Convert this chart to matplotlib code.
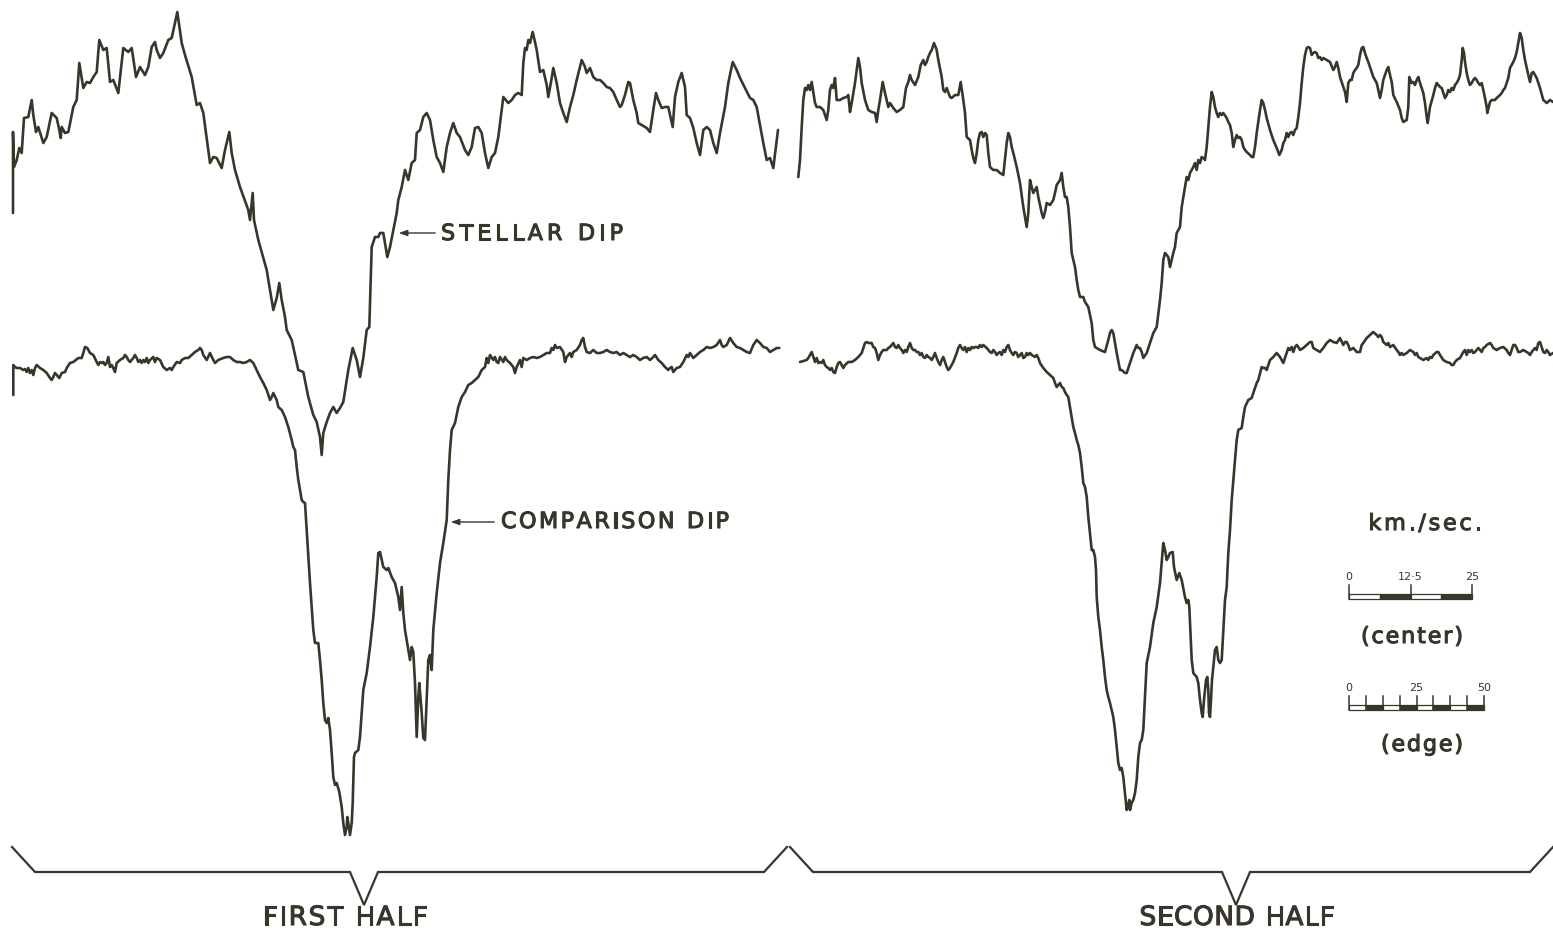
import matplotlib
matplotlib.use("Agg")
import matplotlib.pyplot as plt
import matplotlib.patheffects as pe

# chart recorder traces, (position, pen deflection) pairs along the plate
stellar_first = [
    (13, 213), (13, 132), (14, 167), (16.7, 160), (19.3, 148), (21.7, 153), (24, 118), (28.3, 117),
    (31.7, 100), (33.3, 115), (36, 132), (38.3, 127), (43.3, 143), (46.7, 137), (51.7, 113), (56.7, 118),
    (59.3, 130), (60.7, 138), (61.7, 127), (65, 133), (68.3, 132), (73.3, 107), (76.7, 100), (79.3, 63),
    (83.3, 88), (86.7, 82), (90, 83), (93.3, 77), (96.7, 72), (99.3, 40), (103.3, 50), (106.7, 48),
    (110, 82), (113.3, 80), (118.3, 93), (123.3, 48), (128.3, 52), (131.7, 48), (136, 77), (140, 67),
    (145, 75), (148.3, 67), (151.7, 47), (155, 42), (156.7, 50), (160, 58), (163.3, 53), (168.3, 40),
    (171.7, 38), (177.3, 12), (181.7, 43), (185, 55), (191.7, 77), (196.7, 105), (200, 103), (203.3, 113),
    (210, 163), (213.3, 157), (216.7, 158), (221.7, 168), (225, 150), (229.3, 132), (231.7, 153), (235, 170),
    (240, 187), (248.3, 210), (250, 220), (252.7, 193), (254, 220), (258.3, 240), (266.7, 270), (271.7, 300),
    (273.3, 310), (276.7, 298), (279.3, 283), (281.7, 300), (285, 317), (286.7, 330), (291.7, 340), (298.3, 370),
    (303.3, 372), (308.3, 397), (313.3, 415), (316.7, 422), (320, 437), (321.7, 455), (323.3, 433), (326.7, 422),
    (330, 413), (333.3, 407), (336.7, 413), (340, 408), (343.3, 402), (348.3, 370), (352.7, 348), (356.7, 360),
    (360, 377), (363.3, 358), (366.7, 330), (369.3, 327), (371.7, 247), (375, 237), (378.3, 237), (380, 233),
    (383.3, 233), (387.3, 257), (390, 247), (393.3, 230), (396.7, 213), (398.3, 200), (401.7, 187), (405, 170),
    (408.3, 180), (411.7, 163), (415, 160), (416.7, 133), (420, 130), (423.3, 117), (426.7, 113), (430, 120),
    (433.3, 140), (436.7, 157), (440, 163), (443.3, 172), (446.7, 147), (450, 133), (453.3, 123), (456.7, 133),
    (460, 137), (465, 150), (468.3, 155), (471.7, 147), (475, 128), (478.3, 127), (481.7, 133), (485, 153),
    (488.3, 168), (491.7, 157), (495, 153), (498.3, 137), (501.7, 110), (503.3, 97), (508.3, 103), (511.7, 100),
    (515, 95), (518.3, 93), (521.7, 95), (523.3, 63), (525, 48), (526.7, 50), (528.3, 40), (530, 43),
    (532.7, 32), (535, 42), (536.7, 50), (540, 72), (543.3, 70), (546.7, 85), (548.3, 97), (551.7, 78),
    (553.3, 68), (556.7, 83), (560, 103), (563.3, 113), (566.7, 122), (570, 107), (573.3, 95), (576.7, 80),
    (580, 67), (581.7, 60), (585, 67), (586.7, 73), (590, 68), (593.3, 77), (596.7, 80), (600, 80),
    (603.3, 83), (606.7, 87), (610, 88), (613.3, 92), (616.7, 100), (620, 107), (621.7, 105), (625, 95),
    (628.3, 82), (630, 83), (633.3, 100), (636.7, 113), (638.3, 123), (641.7, 125), (646.7, 128), (650, 132),
    (653.3, 110), (656, 93), (658.3, 100), (661.7, 108), (665, 107), (668.3, 107), (670, 115), (672.7, 127),
    (675, 97), (678.3, 82), (681.7, 73), (685, 87), (686.7, 115), (690, 118), (693.3, 128), (696.7, 143),
    (700, 155), (703.3, 130), (706.7, 127), (710, 130), (713.3, 143), (716.7, 153), (720, 133), (725, 107),
    (728.3, 83), (732.7, 62), (736.7, 70), (740, 78), (745, 88), (750, 98), (753.3, 100), (756.7, 107),
    (760, 125), (763.3, 143), (766.7, 160), (770, 158), (773.3, 168), (776.7, 140), (778, 130),
]

stellar_second = [
    (798.3, 177), (800, 160), (801.7, 127), (803.3, 100), (805, 88), (806.7, 90), (808.3, 85), (810, 90),
    (811.7, 82), (813.3, 92), (815, 103), (816.7, 107), (820, 107), (823.3, 110), (826.7, 120), (828.3, 110),
    (830, 90), (831.7, 85), (833.3, 88), (835, 78), (836.7, 100), (840, 100), (843.3, 98), (846.7, 97),
    (848.3, 95), (850, 112), (851.7, 103), (855, 83), (858.3, 58), (860, 67), (861.7, 83), (865, 100),
    (868.3, 110), (871.7, 112), (875, 113), (876.7, 122), (878.3, 110), (880, 100), (882.7, 82), (885, 93),
    (886.7, 100), (888.3, 107), (890, 103), (893.3, 108), (896.7, 112), (900, 110), (903.3, 107), (906, 88),
    (908.3, 82), (910, 75), (911.7, 80), (915, 85), (918.3, 77), (920.7, 65), (923.3, 60), (925, 65),
    (926.7, 62), (928.3, 57), (930, 53), (931.7, 50), (934, 43), (936.7, 50), (938.3, 60), (941.7, 77),
    (943.3, 90), (945, 92), (946.7, 88), (950, 97), (951.7, 98), (955, 95), (958.3, 95), (960.7, 82),
    (963.3, 100), (965, 113), (966.7, 137), (970, 140), (971.7, 150), (973.3, 158), (975, 163), (976.7, 153),
    (978.3, 140), (980, 133), (981.7, 132), (983.3, 137), (985, 133), (986.7, 135), (988.3, 153), (990, 167),
    (993.3, 170), (996.7, 170), (1000, 173), (1003.3, 175), (1006.7, 143), (1008.3, 133), (1010, 137), (1011.7, 147),
    (1013.3, 153), (1016.7, 167), (1020, 183), (1023.3, 207), (1026.7, 227), (1028.3, 213), (1030, 180), (1031.7, 187),
    (1033.3, 193), (1036.7, 187), (1038.3, 197), (1041.7, 213), (1043.3, 218), (1045, 212), (1046.7, 203), (1050, 205),
    (1053.3, 200), (1055, 193), (1056.7, 185), (1060, 180), (1061.7, 173), (1063.3, 187), (1065, 197), (1066.7, 197),
    (1068.3, 207), (1070, 227), (1071.7, 253), (1073.3, 260), (1075, 267), (1076.7, 280), (1078.3, 290), (1080, 297),
    (1083.3, 297), (1085, 302), (1088.3, 307), (1091.7, 323), (1093.3, 340), (1095, 347), (1100, 350), (1105, 352),
    (1108.3, 340), (1110, 333), (1111.7, 330), (1113.3, 333), (1116.7, 353), (1120, 370), (1121.7, 370), (1125, 373),
    (1126.7, 373), (1130, 363), (1133.3, 353), (1136.7, 345), (1138.3, 348), (1140, 348), (1141.7, 352), (1143.3, 358),
    (1146.7, 353), (1150, 343), (1153.3, 333), (1156.7, 327), (1160, 300), (1161.7, 283), (1163.3, 260), (1165, 253),
    (1168.3, 257), (1170, 267), (1171.7, 260), (1173.3, 253), (1175, 247), (1176.7, 233), (1180, 227), (1181.7, 207),
    (1183.3, 197), (1185, 187), (1186.7, 177), (1188.3, 180), (1190, 173), (1193.3, 167), (1195, 163), (1196.7, 170),
    (1198.3, 160), (1200, 163), (1201.7, 157), (1203.3, 158), (1205, 160), (1206.7, 147), (1208.3, 127), (1210, 107),
    (1211.7, 92), (1213.3, 97), (1215, 107), (1216.7, 113), (1218.3, 117), (1220, 113), (1221.7, 115), (1223.3, 113),
    (1226.7, 118), (1228.3, 122), (1230, 125), (1231.7, 133), (1233.3, 147), (1235, 140), (1236.7, 135), (1238.3, 138),
    (1240, 137), (1241.7, 140), (1243.3, 147), (1245, 150), (1246.7, 152), (1250, 155), (1251.7, 157), (1253.3, 157),
    (1255, 147), (1256.7, 133), (1260, 110), (1261.7, 100), (1263.3, 103), (1265, 110), (1266.7, 118), (1270, 130),
    (1273.3, 140), (1276.7, 148), (1279.3, 155), (1281.7, 150), (1283.3, 143), (1285, 140), (1286.7, 133), (1288.3, 137),
    (1290, 133), (1291.7, 132), (1293.3, 135), (1295, 130), (1296.7, 128), (1298.3, 117), (1300, 103), (1301.7, 83),
    (1303.3, 67), (1305, 55), (1306.7, 48), (1308.3, 47), (1310, 48), (1311.7, 55), (1313.3, 53), (1315, 52),
    (1316.7, 53), (1318.3, 58), (1320, 57), (1321.7, 60), (1323.3, 58), (1326.7, 60), (1330, 62), (1333.3, 70),
    (1335, 67), (1336.7, 62), (1338.3, 68), (1340, 77), (1343.3, 87), (1345, 92), (1346.7, 102), (1348.3, 83),
    (1350, 80), (1351.7, 80), (1353.3, 73), (1355, 70), (1356.7, 68), (1358.3, 65), (1360, 55), (1361.7, 48),
    (1363.3, 47), (1365, 53), (1366.7, 58), (1368.3, 62), (1370, 67), (1371.7, 72), (1373.3, 77), (1376.7, 83),
    (1378.3, 90), (1380, 98), (1381.7, 90), (1383.3, 80), (1385, 75), (1386.7, 70), (1388.3, 67), (1390, 75),
    (1391.7, 82), (1393.3, 95), (1396.7, 102), (1400, 110), (1401.7, 118), (1403.3, 122), (1406.7, 120), (1408.3, 107),
    (1409.3, 77), (1411.7, 83), (1413.3, 82), (1415, 85), (1416.7, 80), (1418.3, 77), (1420, 83), (1421.7, 88),
    (1423.3, 93), (1425, 103), (1426.7, 117), (1427.7, 123), (1430, 107), (1433.3, 95), (1435, 88), (1436.7, 83),
    (1438.3, 85), (1440, 87), (1441.7, 88), (1443.3, 93), (1445, 98), (1446.7, 95), (1448.3, 90), (1450, 92),
    (1451.7, 88), (1453.3, 90), (1455, 85), (1456.7, 83), (1458.3, 80), (1460, 75), (1461.7, 60), (1462.7, 48),
    (1464, 53), (1465, 62), (1466.7, 73), (1468.3, 80), (1470, 85), (1471.7, 83), (1473.3, 80), (1475, 78),
    (1476.7, 80), (1478.3, 83), (1480, 85), (1481.7, 83), (1483.3, 90), (1485, 98), (1486.7, 107), (1487.3, 113),
    (1490, 102), (1491.7, 100), (1495, 100), (1496.7, 98), (1500, 95), (1501.7, 93), (1503.3, 90), (1505, 88),
    (1506.7, 83), (1508.3, 78), (1510, 68), (1511.7, 65), (1513.3, 62), (1515, 58), (1516.7, 52), (1518.3, 43),
    (1520, 33), (1521.7, 38), (1523.3, 50), (1525, 60), (1526.7, 68), (1528.3, 75), (1530, 82), (1531.7, 73),
    (1533.3, 72), (1535, 75), (1536.7, 78), (1540, 88), (1543.3, 100), (1546.7, 103), (1550, 100), (1553, 102),
]

comparison_first = [
    (13.3, 395), (13.3, 365), (15, 367), (16.7, 368), (20, 368), (23.3, 370), (25, 369), (26.7, 372),
    (28.3, 368), (30, 373), (31.7, 370), (33.3, 375), (35, 368), (36.7, 365), (40, 368), (43.3, 370),
    (46.7, 373), (50, 378), (51.7, 380), (53.3, 377), (55, 373), (56.7, 375), (59.3, 378), (61.7, 373),
    (65, 372), (66.7, 368), (70, 363), (73.3, 362), (78.3, 358), (81.7, 358), (83.3, 353), (85, 347),
    (87.3, 348), (90, 353), (93.3, 355), (96.7, 362), (98.3, 365), (100, 362), (101.7, 363), (103.3, 362),
    (105, 365), (106.7, 363), (108.3, 357), (110, 367), (111.7, 365), (113.3, 368), (115, 372), (116.7, 363),
    (120, 360), (123.3, 358), (125, 355), (126.7, 357), (128.3, 360), (130, 362), (133.3, 358), (135, 355),
    (136.7, 358), (138.3, 362), (140, 360), (141.7, 363), (143.3, 360), (145, 362), (146.7, 358), (148.3, 363),
    (150, 360), (153.3, 357), (155, 362), (156.7, 358), (160, 360), (163.3, 367), (166.7, 370), (170, 368),
    (171.7, 370), (173.3, 367), (176.7, 362), (180, 363), (181.7, 360), (185, 358), (188.3, 358), (191.7, 355),
    (195, 352), (198.3, 350), (200, 348), (201.7, 350), (203.3, 355), (206.7, 360), (210, 353), (213.3, 360),
    (215, 363), (218.3, 360), (223.3, 358), (226.7, 357), (230, 357), (233.3, 360), (236.7, 362), (240, 362),
    (243.3, 363), (246.7, 362), (250, 360), (253.3, 363), (256.7, 370), (260, 377), (263.3, 383), (266.7, 390),
    (270, 400), (271.7, 397), (273.3, 393), (276.7, 400), (278.3, 407), (281.7, 410), (285, 417), (288.3, 427),
    (291.7, 440), (293.3, 447), (295, 450), (296.7, 467), (298.3, 480), (300, 490), (301.7, 500), (303.3, 502),
    (305, 503), (306.7, 530), (308.3, 557), (310, 583), (311.7, 607), (313.3, 630), (315, 643), (318.3, 643),
    (320, 660), (321.7, 680), (323.3, 703), (325, 720), (326.7, 723), (328.3, 718), (330, 730), (331.7, 753),
    (333.3, 777), (335, 785), (336.7, 783), (339.3, 792), (341.7, 807), (343.3, 823), (345, 835), (346.7, 827),
    (347.3, 817), (348.3, 823), (350, 835), (351.7, 823), (352.7, 803), (353.3, 780), (354, 757), (355, 753),
    (358.3, 750), (360, 737), (361.7, 713), (363.3, 690), (366.7, 673), (370, 647), (373.3, 617), (376.7, 577),
    (378.3, 553), (380, 552), (383.3, 567), (386.7, 570), (388.3, 568), (391.7, 577), (395, 583), (398.3, 597),
    (400, 610), (401.7, 587), (403.3, 613), (405, 630), (408.3, 650), (410, 660), (411.7, 647), (413.3, 652),
    (415, 683), (416.7, 737), (418.3, 697), (419.3, 683), (420.7, 700), (421.7, 713), (423.3, 738), (425, 740),
    (426.7, 700), (428.3, 660), (430, 655), (431.7, 670), (433.3, 630), (436.7, 593), (440, 563), (443.3, 543),
    (446.7, 520), (448.3, 480), (450, 450), (451.7, 430), (455, 423), (458.3, 407), (461.7, 397), (465, 392),
    (468.3, 385), (471.7, 383), (475, 380), (478.3, 377), (481.7, 370), (485, 367), (486.7, 358), (488.3, 363),
    (490, 355), (493.3, 360), (495, 357), (496.7, 362), (498.3, 363), (500, 357), (503.3, 362), (505, 357),
    (506.7, 360), (510, 363), (513.3, 367), (515, 373), (516.7, 367), (520, 360), (521.7, 367), (523.3, 358),
    (526.7, 360), (530, 358), (533.3, 357), (536.7, 358), (540, 357), (543.3, 355), (546.7, 353), (550, 353),
    (551.7, 348), (553.3, 350), (555, 345), (556.7, 348), (560, 347), (563.3, 352), (565, 362), (566.7, 357),
    (570, 353), (571.7, 357), (573.3, 352), (576.7, 350), (580, 345), (581.7, 340), (583.3, 338), (585, 347),
    (586.7, 352), (590, 353), (593.3, 350), (596.7, 353), (600, 353), (603.3, 352), (606.7, 350), (610, 352),
    (613.3, 353), (616.7, 352), (620, 355), (623.3, 353), (626.7, 355), (630, 357), (633.3, 355), (636.7, 357),
    (640, 360), (643.3, 358), (646.7, 357), (650, 360), (653.3, 357), (655, 355), (658.3, 360), (661.7, 363),
    (665, 367), (668.3, 370), (670, 368), (671.7, 367), (673.3, 372), (676.7, 368), (680, 367), (683.3, 362),
    (686.7, 355), (688.3, 357), (690, 353), (693.3, 358), (696.7, 355), (700, 352), (703.3, 350), (706.7, 347),
    (710, 348), (713.3, 347), (716.7, 345), (720, 340), (721.7, 345), (723.3, 347), (726.7, 345), (730, 338),
    (733.3, 343), (736.7, 347), (740, 348), (743.3, 350), (746.7, 352), (750, 353), (753.3, 345), (756.7, 340),
    (760, 343), (763.3, 347), (766.7, 348), (770, 352), (773.3, 350), (776.7, 348), (779.3, 348),
]

comparison_second = [
    (800, 362), (803.3, 361), (806.7, 360), (808.3, 358), (810, 355), (811.7, 352), (813.3, 357), (815, 362),
    (816.7, 358), (818.3, 363), (820, 362), (821.7, 363), (823.3, 360), (825, 365), (826.7, 367), (828.3, 368),
    (830, 370), (831.7, 368), (833.3, 372), (835, 373), (836.7, 367), (838.3, 363), (840, 362), (841.7, 365),
    (843.3, 368), (845, 365), (848.3, 362), (851.7, 362), (855, 360), (858.3, 357), (861.7, 353), (863.3, 348),
    (865, 343), (866.7, 342), (868.3, 343), (871.7, 343), (873.3, 347), (875, 348), (876.7, 353), (878.3, 360),
    (880, 355), (881.7, 352), (883.3, 350), (886.7, 350), (888.3, 348), (890, 347), (891.7, 345), (893.3, 343),
    (895, 347), (896.7, 348), (898.3, 345), (900, 348), (901.7, 350), (903.3, 353), (905, 350), (906.7, 352),
    (908.3, 347), (910, 343), (911.7, 348), (913.3, 350), (915, 350), (916.7, 352), (918.3, 352), (920, 355),
    (921.7, 353), (923.3, 357), (925, 358), (926.7, 355), (928.3, 357), (930, 358), (931.7, 360), (933.3, 357),
    (935, 353), (936.7, 358), (938.3, 362), (940, 365), (941.7, 360), (943.3, 357), (945, 362), (946.7, 367),
    (948.3, 370), (950, 368), (953.3, 362), (956.7, 353), (958.3, 348), (960, 345), (961.7, 348), (963.3, 350),
    (965, 347), (966.7, 352), (968.3, 348), (970, 350), (971.7, 347), (973.3, 348), (975, 347), (976.7, 347),
    (978.3, 348), (980, 345), (981.7, 347), (983.3, 345), (986.7, 348), (988.3, 350), (990, 352), (991.7, 353),
    (993.3, 350), (995, 352), (996.7, 355), (998.3, 353), (1000, 352), (1001.7, 355), (1003.3, 350), (1005, 352),
    (1006.7, 347), (1008.3, 345), (1010, 350), (1011.7, 353), (1013.3, 355), (1015, 352), (1016.7, 353), (1018.3, 357),
    (1020, 355), (1021.7, 353), (1023.3, 358), (1025, 357), (1026.7, 353), (1028.3, 355), (1030, 353), (1031.7, 355),
    (1035, 357), (1036.7, 355), (1038.3, 358), (1040, 363), (1043.3, 368), (1046.7, 372), (1050, 375), (1053.3, 378),
    (1055, 383), (1056.7, 387), (1058.3, 385), (1060, 383), (1061.7, 387), (1063.3, 388), (1065, 392), (1066.7, 395),
    (1068.3, 397), (1070, 407), (1071.7, 417), (1073.3, 427), (1075, 433), (1076.7, 440), (1078.3, 445), (1080, 453),
    (1081.7, 467), (1083.3, 483), (1085, 487), (1086.7, 497), (1088.3, 517), (1090, 533), (1091.7, 550), (1093.3, 550),
    (1095, 557), (1096, 570), (1096.7, 597), (1098.3, 617), (1100, 630), (1101.7, 647), (1103.3, 660), (1105, 677),
    (1106.7, 690), (1108.3, 697), (1110, 703), (1111.7, 710), (1113.3, 717), (1115, 730), (1116.7, 747), (1118.3, 763),
    (1120, 770), (1121.7, 768), (1123.3, 777), (1125, 793), (1126.7, 810), (1128.3, 805), (1129.3, 800), (1130, 810),
    (1131.7, 803), (1133.3, 800), (1135, 793), (1136.7, 780), (1138.3, 757), (1140, 743), (1141.7, 740), (1143.3, 730),
    (1145, 697), (1146.7, 663), (1150, 647), (1153.3, 623), (1156.7, 607), (1160, 583), (1161.7, 563), (1163.3, 543),
    (1165, 550), (1166.7, 560), (1168.3, 557), (1170, 553), (1172.7, 552), (1174, 567), (1176.7, 580), (1179.3, 573),
    (1181.7, 580), (1185, 597), (1186.7, 603), (1188.3, 600), (1189.3, 607), (1190.7, 637), (1191.7, 660), (1193.3, 673),
    (1196.7, 677), (1198.3, 683), (1200, 700), (1201.7, 713), (1202.7, 717), (1204, 700), (1206, 680), (1207.3, 677),
    (1208.3, 690), (1209, 713), (1210, 717), (1211, 700), (1212, 680), (1213.3, 667), (1215, 650), (1216.7, 647),
    (1218.3, 660), (1220, 663), (1221.7, 660), (1223.3, 630), (1225, 600), (1226.7, 587), (1228.3, 553), (1230, 530),
    (1231.7, 500), (1233.3, 480), (1235, 460), (1236.7, 440), (1238.3, 430), (1241.7, 428), (1243.3, 417), (1245, 407),
    (1248.3, 400), (1251.7, 398), (1253.3, 393), (1256.7, 383), (1258.3, 380), (1261.7, 367), (1263.3, 368), (1265, 368),
    (1266.7, 370), (1268.3, 365), (1270, 360), (1273.3, 357), (1276.7, 353), (1280, 357), (1281.7, 360), (1283.3, 363),
    (1285, 358), (1286.7, 353), (1288.3, 348), (1290, 350), (1291.7, 347), (1293.3, 352), (1295, 347), (1296.7, 345),
    (1298.3, 347), (1300, 350), (1303.3, 348), (1306.7, 345), (1310, 342), (1311.7, 342), (1313.3, 348), (1316.7, 350),
    (1320, 352), (1323.3, 348), (1326.7, 343), (1330, 340), (1333.3, 342), (1336.7, 343), (1340, 338), (1343.3, 345),
    (1345, 342), (1346.7, 342), (1348.3, 345), (1350, 350), (1353.3, 348), (1356.7, 352), (1360, 352), (1361.7, 345),
    (1363.3, 343), (1366.7, 338), (1370, 335), (1373.3, 332), (1376.7, 335), (1378.3, 337), (1380, 335), (1381.7, 337),
    (1383.3, 342), (1386.7, 345), (1388.3, 343), (1390, 347), (1393.3, 345), (1396.7, 350), (1398.3, 352), (1400, 355),
    (1401.7, 353), (1403.3, 355), (1406.7, 353), (1410, 350), (1413.3, 352), (1415, 355), (1416.7, 353), (1418.3, 357),
    (1420, 358), (1423.3, 360), (1426.7, 358), (1428.3, 360), (1430, 357), (1431.7, 358), (1433.3, 355), (1436.7, 352),
    (1438.3, 352), (1440, 355), (1443.3, 360), (1446.7, 362), (1450, 363), (1451.7, 365), (1453.3, 365), (1455, 362),
    (1456.7, 360), (1460, 358), (1461.7, 355), (1463.3, 352), (1465, 350), (1466.7, 355), (1468.3, 350), (1470, 352),
    (1471.7, 350), (1473.3, 353), (1475, 352), (1476.7, 350), (1478.3, 348), (1480, 350), (1481.7, 352), (1483.3, 348),
    (1485, 347), (1486.7, 345), (1490, 343), (1491.7, 345), (1493.3, 348), (1496.7, 350), (1500, 348), (1503.3, 347),
    (1506.7, 350), (1508.3, 353), (1510, 355), (1513.3, 345), (1515, 345), (1516.7, 348), (1518.3, 352), (1520, 352),
    (1523.3, 350), (1526.7, 352), (1528.3, 353), (1530, 355), (1531.7, 352), (1533.3, 350), (1535, 348), (1536.7, 350),
    (1538.3, 343), (1540, 342), (1541.7, 347), (1543.3, 352), (1545, 353), (1546.7, 350), (1548.3, 352), (1550, 355),
    (1553, 353),
]

# the two plate halves: span along the bottom and where each brace points
halves = ["FIRST HALF", "SECOND HALF"]
half_spans = [(12, 787), (790, 1553)]
half_tips = [364, 1236]

# km/sec scale bars: (full length in km/sec, labelled values, label strings)
center_scale = (25, [0, 12.5, 25], ["0", "12·5", "25"])
edge_scale = (50, [0, 25, 50], ["0", "25", "50"])

INK = "#38362b"
W, H = 1553, 936

fig = plt.figure(figsize=(W / 100, H / 100), dpi=100)
ax = fig.add_axes([0, 0, 1, 1])
ax.set_xlim(0, W)
ax.set_ylim(H, 0)
ax.axis("off")
renderer = fig.canvas.get_renderer()

# stencil lettering is a touch heavier than the regular face
heavy = [pe.withStroke(linewidth=0.8, foreground=INK)]


def tracked(x, y, s, size, width, ha="left", va="center"):
    # spread the characters so the word covers `width` pixels
    widths = []
    for ch in s:
        if ch == " ":
            widths.append(0.34 * size * 100 / 72)
            continue
        t = ax.text(0, 0, ch, fontsize=size)
        widths.append(t.get_window_extent(renderer).width)
        t.remove()
    track = (width - sum(widths)) / max(len(s) - 1, 1)
    x0 = x - width / 2 if ha == "center" else x
    for ch, w in zip(s, widths):
        if ch != " ":
            ax.text(x0, y, ch, fontsize=size, color=INK, ha="left", va=va, path_effects=heavy)
        x0 += w + track


for trace in (stellar_first, stellar_second, comparison_first, comparison_second):
    xs = [p[0] for p in trace]
    ys = [p[1] for p in trace]
    ax.plot(xs, ys, color=INK, lw=1.9, solid_joinstyle="round", solid_capstyle="round")

# labels with pointer arrows
ax.annotate("", xy=(396, 233), xytext=(438, 233),
            arrowprops=dict(arrowstyle="-|>,head_length=0.5,head_width=0.18", color=INK, lw=1.0))
tracked(441, 234, "STELLAR DIP", 16, 182)
ax.annotate("", xy=(448, 522), xytext=(497, 522),
            arrowprops=dict(arrowstyle="-|>,head_length=0.5,head_width=0.18", color=INK, lw=1.0))
tracked(501, 522, "COMPARISON DIP", 16, 228)

# braces marking each half of the plate
for (x0, x1), xt, name, cx, wd in zip(half_spans, half_tips, halves, [345, 1237], [165, 195]):
    bx = [x0, x0 + 23, xt - 14, xt, xt + 14, x1 - 23, x1]
    by = [847, 872, 872, 905, 872, 872, 847]
    ax.plot(bx, by, color=INK, lw=1.6, solid_joinstyle="miter")
    tracked(cx, 918, name, 19, wd, ha="center")


def scale_bar(x0, x1, y, scale, n_seg, tick_every):
    vmax, vals, labs = scale
    k = (x1 - x0) / vmax
    seg = vmax / n_seg
    for i in range(n_seg):
        face = "white" if i % 2 == 0 else INK
        ax.add_patch(plt.Rectangle((x0 + i * seg * k, y - 4.5), seg * k, 5,
                                   facecolor=face, edgecolor=INK, lw=0.9))
    v = 0.0
    while v <= vmax + 1e-9:
        ax.plot([x0 + v * k] * 2, [y + 0.5, y - 13], color=INK, lw=1.1)
        v += tick_every
    for v, lab in zip(vals, labs):
        ax.text(x0 + v * k, y - 21, lab, fontsize=8, color=INK, ha="center", va="center")


tracked(1425, 524, "km./sec.", 16, 113, ha="center")
scale_bar(1349, 1472, 598, center_scale, 4, 12.5)
tracked(1412, 637, "(center)", 16, 102, ha="center")
scale_bar(1349, 1484, 709, edge_scale, 8, 6.25)
tracked(1422, 745, "(edge)", 16, 82, ha="center")

fig.savefig("out.png", dpi=100, facecolor="white")
